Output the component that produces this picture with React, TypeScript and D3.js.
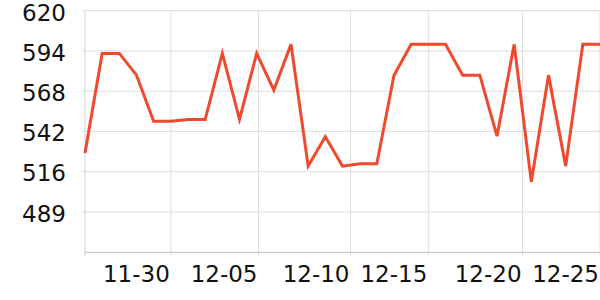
import React from "react";
import * as d3 from "d3";

const dates: string[] = [
  "2023-11-25", "2023-11-26", "2023-11-27", "2023-11-28", "2023-11-29", "2023-11-30",
  "2023-12-01", "2023-12-02", "2023-12-03", "2023-12-04", "2023-12-05", "2023-12-06",
  "2023-12-07", "2023-12-08", "2023-12-09", "2023-12-10", "2023-12-11", "2023-12-12",
  "2023-12-13", "2023-12-14", "2023-12-15", "2023-12-16", "2023-12-17", "2023-12-18",
  "2023-12-19", "2023-12-20", "2023-12-21", "2023-12-22", "2023-12-23", "2023-12-24",
  "2023-12-25",
];

const values: number[] = [
  527.7, 592.3, 592.3, 578.2, 548.3, 548.3, 549.4, 549.4, 592.3, 549.5, 592.3, 568.5,
  598.2, 519.2, 538.2, 519.2, 520.7, 520.7, 578.2, 598.2, 598.2, 598.2, 578.2, 578.2,
  538.6, 598.2, 509.0, 578.2, 519.2, 598.2, 598.2,
];

const yTicks: number[] = [489.4, 515.6, 541.7, 567.8, 593.9, 620];
const yDomain: number[] = [463.3, 620];

const xTicks: string[] = [
  "2023-11-30T00:00", "2023-12-05T02:36", "2023-12-10T11:12",
  "2023-12-15T00:00", "2023-12-20T11:42", "2023-12-25T00:00",
];

const parseDay = d3.timeParse("%Y-%m-%d");
const parseTick = d3.timeParse("%Y-%m-%dT%H:%M");
const fmtX = d3.timeFormat("%m-%d");
const fmtY = d3.format(".0f");

export default function App() {
  const width = 600;
  const height = 300;
  const left = 85;
  const right = 600;
  const top = 10.7;
  const bottom = 252.3;

  const data = dates.map((d, i) => ({ date: parseDay(d) as Date, value: values[i] }));
  const x = d3
    .scaleTime()
    .domain(d3.extent(data, (d) => d.date) as [Date, Date])
    .range([left, right]);
  const y = d3.scaleLinear().domain(yDomain).range([bottom, top]);

  const line = d3
    .line<{ date: Date; value: number }>()
    .x((d) => x(d.date))
    .y((d) => y(d.value));

  const tickDates = xTicks.map((t) => parseTick(t) as Date);
  const font = "'DejaVu Sans', sans-serif";

  return (
    <svg
      width={width}
      height={height}
      style={{ position: "absolute", left: 0, top: 0, display: "block", background: "#fff" }}
    >
      {yTicks.map((t) => (
        <g key={"y" + t}>
          <line x1={left - 3} x2={right} y1={y(t)} y2={y(t)} stroke="#dddddd" strokeWidth={1} />
          <text
            x={left - 19}
            y={y(t) + 9.8}
            textAnchor="end"
            fontFamily={font}
            fontSize={23}
            fill="#111"
          >
            {fmtY(t)}
          </text>
        </g>
      ))}
      {tickDates.map((t, i) => (
        <g key={"x" + i}>
          <line x1={x(t)} x2={x(t)} y1={top} y2={bottom + 3} stroke="#dddddd" strokeWidth={1} />
          <text
            x={x(t) - 1}
            y={282}
            textAnchor="end"
            fontFamily={font}
            fontSize={23}
            fill="#111"
          >
            {fmtX(t)}
          </text>
        </g>
      ))}
      <line x1={left} x2={left} y1={top} y2={bottom} stroke="#d4d4d4" strokeWidth={1} />
      <line x1={left} x2={right} y1={bottom} y2={bottom} stroke="#bdbdbd" strokeWidth={1} />
      <line x1={left} x2={left} y1={bottom} y2={bottom + 3} stroke="#bdbdbd" strokeWidth={1} />
      <path d={line(data) || ""} fill="none" stroke="#ee4a2c" strokeWidth={3} strokeLinejoin="miter" />
    </svg>
  );
}
